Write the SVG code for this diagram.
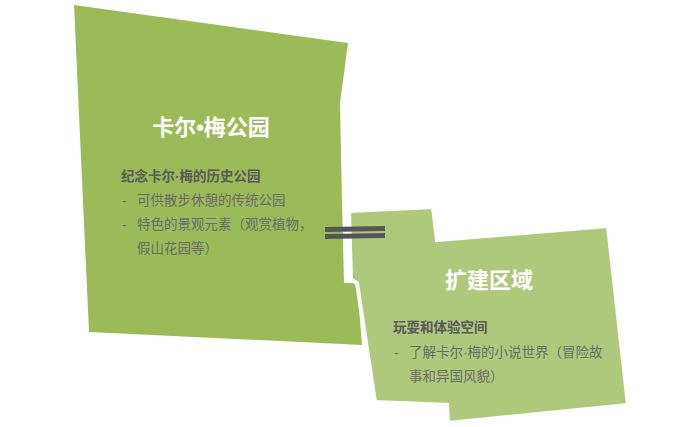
<svg xmlns="http://www.w3.org/2000/svg" width="700" height="427" viewBox="0 0 700 427">
<style>
.t{font-family:"Liberation Sans","Noto Sans CJK SC",sans-serif;}
.title{font-size:22px;font-weight:bold;fill:#ffffff;text-anchor:middle;}
.sub{font-size:13.5px;font-weight:bold;fill:#595959;}
.item{font-size:13.5px;fill:#6b6b6b;}
.bar{fill:#555555;}
</style>
<rect width="700" height="427" fill="#ffffff"/>
<g id="node-park">
<polygon points="74,5 348,43 340,103 342,200 344,283 357,283 362,345 89,332" fill="#9bbb59"/>
<text class="t title" x="211" y="135">卡尔•梅公园</text>
<text class="t sub" x="121" y="181">纪念卡尔·梅的历史公园</text>
<text class="t item" x="122" y="205">-</text>
<text class="t item" x="137" y="205">可供散步休憩的传统公园</text>
<text class="t item" x="122" y="229">-</text>
<text class="t item" x="137" y="229">特色的景观元素（观赏植物，</text>
<text class="t item" x="137" y="253">假山花园等）</text>
</g>
<g id="node-extension">
<polygon points="349,211 433,207 437,240 608,226 628,405 448,423 447,405 375,402 357,283 351,280" fill="#afc97c" stroke="#ffffff" stroke-width="4" stroke-linejoin="miter"/>
<text class="t title" x="489" y="288">扩建区域</text>
<text class="t sub" x="393" y="332">玩耍和体验空间</text>
<text class="t item" x="394" y="357">-</text>
<text class="t item" x="409" y="357">了解卡尔·梅的小说世界（冒险故</text>
<text class="t item" x="409" y="381">事和异国风貌）</text>
</g>
<g id="connectors">
<polygon class="bar" points="325,227 385,226 385,231 325,232"/>
<polygon class="bar" points="325,234 385,233 385,238 325,239"/>
</g>
</svg>
